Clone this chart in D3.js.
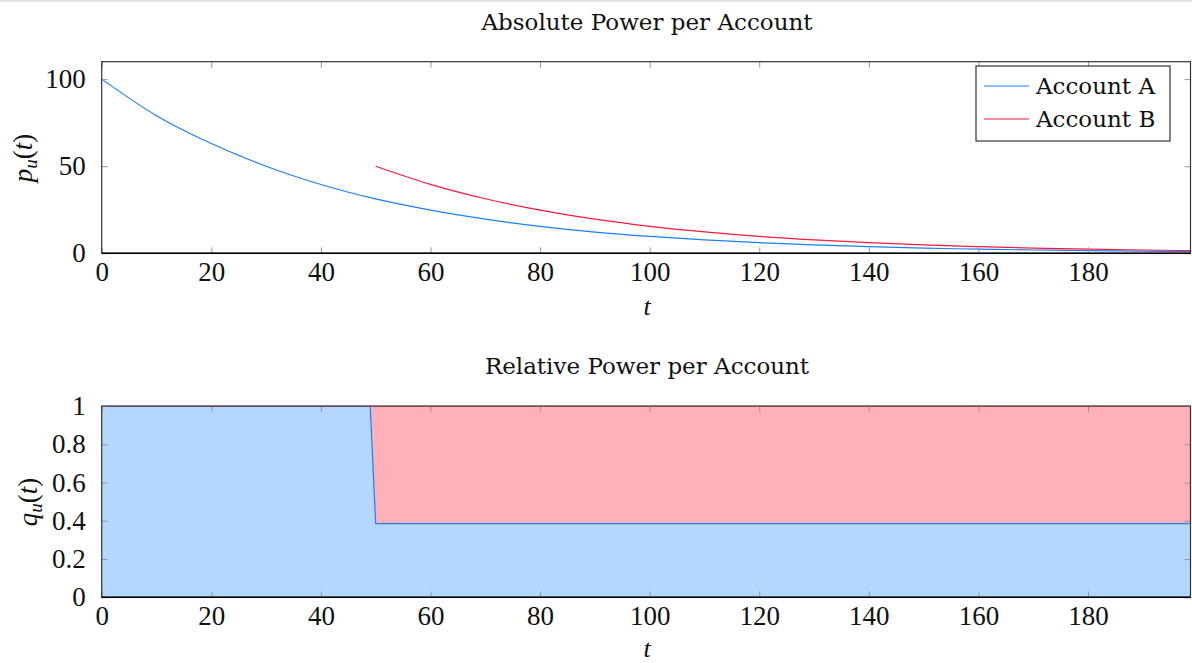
<!DOCTYPE html>
<html>
<head>
<meta charset="utf-8">
<script src="https://cdn.jsdelivr.net/npm/d3@7"></script>
<style>
  body { margin: 0; background: #fff; }
  svg { display: block; }
  .tick text { font-family: "Liberation Serif", serif; font-size: 27px; fill: #111; }
</style>
</head>
<body>
<svg id="chart" width="1192" height="663"></svg>
<script>
// absolute power
var tA = [0, 10, 20, 30, 40, 50, 60, 70, 80, 90, 100, 110, 120, 130, 140, 150, 160, 170, 180, 190, 199];
var powerA = [100, 79, 63, 50, 39.5, 31.2, 24.8, 19.6, 15.5, 12.2, 9.7, 7.7, 6.1, 4.8, 3.8, 3.0, 2.4, 1.9, 1.5, 1.2, 0.95];
var tB = [50, 60, 70, 80, 90, 100, 110, 120, 130, 140, 150, 160, 170, 180, 190, 199];
var powerB = [50, 39.6, 31.3, 24.8, 19.6, 15.5, 12.3, 9.7, 7.7, 6.1, 4.8, 3.8, 3.0, 2.4, 1.9, 1.5];

// relative power
var tRel = [0, 49, 50, 199];
var shareA = [1, 1, 0.385, 0.385];
var shareB = [0, 0, 0.615, 0.615];

var seriesNames = ["Account A", "Account B"];
var xTicks = [0, 20, 40, 60, 80, 100, 120, 140, 160, 180];
var yTicksTop = [0, 50, 100];
var yTicksBottom = [0, 0.2, 0.4, 0.6, 0.8, 1];

var blue = "#1a80ff", red = "#ff1a3d";
var lightBlue = "#b3d7ff", pink = "#ffb0b8";
var textFont = "'DejaVu Serif', serif";

var svg = d3.select("#chart");
svg.append("line").attr("x1", 0).attr("x2", 1192).attr("y1", 1).attr("y2", 1)
  .attr("stroke", "#e2e2e2").attr("stroke-width", 2);

var left = 101.7, right = 1190.5;
var x = d3.scaleLinear().domain([0, 198.7]).range([left, right]);

function frame(g, y, yTicks, fmt) {
  var top = y.range()[1], bottom = y.range()[0];
  // ticks inward, mirrored on all sides
  g.append("g").attr("transform", "translate(0," + bottom + ")")
    .call(d3.axisBottom(x).tickValues(xTicks).tickSize(-6).tickPadding(9))
    .call(function(a) { a.select(".domain").remove(); a.selectAll(".tick line").attr("stroke", "#999"); });
  g.append("g").attr("transform", "translate(0," + top + ")")
    .call(d3.axisTop(x).tickValues(xTicks).tickSize(-6).tickFormat(""))
    .call(function(a) { a.select(".domain").remove(); a.selectAll(".tick line").attr("stroke", "#999"); });
  g.append("g").attr("transform", "translate(" + left + ",0)")
    .call(d3.axisLeft(y).tickValues(yTicks).tickSize(-6).tickPadding(16).tickFormat(fmt))
    .call(function(a) { a.select(".domain").remove(); a.selectAll(".tick line").attr("stroke", "#999"); });
  g.append("g").attr("transform", "translate(" + right + ",0)")
    .call(d3.axisRight(y).tickValues(yTicks).tickSize(-6).tickFormat(""))
    .call(function(a) { a.select(".domain").remove(); a.selectAll(".tick line").attr("stroke", "#999"); });
  g.append("rect").attr("x", left).attr("y", top).attr("width", right - left).attr("height", bottom - top)
    .attr("fill", "none").attr("stroke", "#333").attr("stroke-width", 1.2);
  g.append("line").attr("x1", left).attr("x2", right).attr("y1", bottom).attr("y2", bottom)
    .attr("stroke", "#000").attr("stroke-width", 1.4);
}

function title(txt, cy) {
  svg.append("text").attr("x", 647).attr("y", cy).attr("text-anchor", "middle")
    .style("font-family", textFont).style("font-size", "23px").attr("fill", "#111").text(txt);
}

function xLabel(cy) {
  svg.append("text").attr("x", 647).attr("y", cy).attr("text-anchor", "middle")
    .style("font-family", "'Liberation Serif', serif").style("font-size", "26px").style("font-style", "italic")
    .attr("fill", "#111").text("t");
}

function yLabel(letter, cx, cy) {
  var t = svg.append("text").attr("transform", "translate(" + cx + "," + cy + ") rotate(-90)")
    .attr("text-anchor", "middle").style("font-family", "'Liberation Serif', serif").style("font-size", "27px")
    .attr("fill", "#111");
  t.append("tspan").style("font-style", "italic").text(letter);
  t.append("tspan").style("font-style", "italic").style("font-size", "19px").attr("dy", 5).text("u");
  t.append("tspan").attr("dy", -5).text("(");
  t.append("tspan").style("font-style", "italic").text("t");
  t.append("tspan").text(")");
}

// ---- top panel
var yTop = d3.scaleLinear().domain([0, 110]).range([253.3, 61.7]);
var gTop = svg.append("g");
svg.append("clipPath").attr("id", "clipTop").append("rect")
  .attr("x", left).attr("y", 61.7).attr("width", right - left).attr("height", 253.3 - 61.7);

var line = d3.line().x(function(d) { return x(d[0]); }).y(function(d) { return yTop(d[1]); }).curve(d3.curveMonotoneX);
gTop.append("path").datum(d3.zip(tA, powerA)).attr("d", line).attr("clip-path", "url(#clipTop)")
  .attr("fill", "none").attr("stroke", blue).attr("stroke-width", 1.2);
gTop.append("path").datum(d3.zip(tB, powerB)).attr("d", line).attr("clip-path", "url(#clipTop)")
  .attr("fill", "none").attr("stroke", red).attr("stroke-width", 1.2);
frame(gTop, yTop, yTicksTop, d3.format("d"));

// legend
var lg = svg.append("g");
lg.append("rect").attr("x", 976).attr("y", 66).attr("width", 194).attr("height", 75)
  .attr("fill", "#fff").attr("stroke", "#333").attr("stroke-width", 1.2);
seriesNames.forEach(function(name, i) {
  var yy = 86 + i * 33;
  lg.append("line").attr("x1", 984).attr("x2", 1029).attr("y1", yy).attr("y2", yy)
    .attr("stroke", i === 0 ? blue : red).attr("stroke-width", 1.2);
  lg.append("text").attr("x", 1036).attr("y", yy + 8)
    .style("font-family", textFont).style("font-size", "23px").attr("fill", "#111").text(name);
});

title("Absolute Power per Account", 30);
xLabel(315);
yLabel("p", 32, 158);

// ---- bottom panel
var yBot = d3.scaleLinear().domain([0, 1]).range([597.3, 406]);
var gBot = svg.append("g");
svg.append("clipPath").attr("id", "clipBot").append("rect")
  .attr("x", left).attr("y", 406).attr("width", right - left).attr("height", 597.3 - 406);

var rows = tRel.map(function(t, i) { return { t: t, A: shareA[i], B: shareB[i] }; });
var stacked = d3.stack().keys(["A", "B"])(rows);
var area = d3.area().x(function(d) { return x(d.data.t); })
  .y0(function(d) { return yBot(d[0]); }).y1(function(d) { return yBot(d[1]); });
var upper = d3.line().x(function(d) { return x(d.data.t); }).y(function(d) { return yBot(d[1]); });
var fills = [lightBlue, pink], strokes = [blue, red];
stacked.slice().reverse().forEach(function(s) {
  var i = s.index;
  gBot.append("path").datum(s).attr("d", area).attr("clip-path", "url(#clipBot)")
    .attr("fill", fills[i]).attr("stroke", "none");
});
stacked.forEach(function(s) {
  var i = s.index;
  gBot.append("path").datum(s).attr("d", upper).attr("clip-path", "url(#clipBot)")
    .attr("fill", "none").attr("stroke", strokes[i]).attr("stroke-width", 1.2);
});
frame(gBot, yBot, yTicksBottom, function(d) { return d === 0 || d === 1 ? d3.format("d")(d) : d3.format(".1f")(d); });

title("Relative Power per Account", 374);
xLabel(657);
yLabel("q", 37, 502);
</script>
</body>
</html>
